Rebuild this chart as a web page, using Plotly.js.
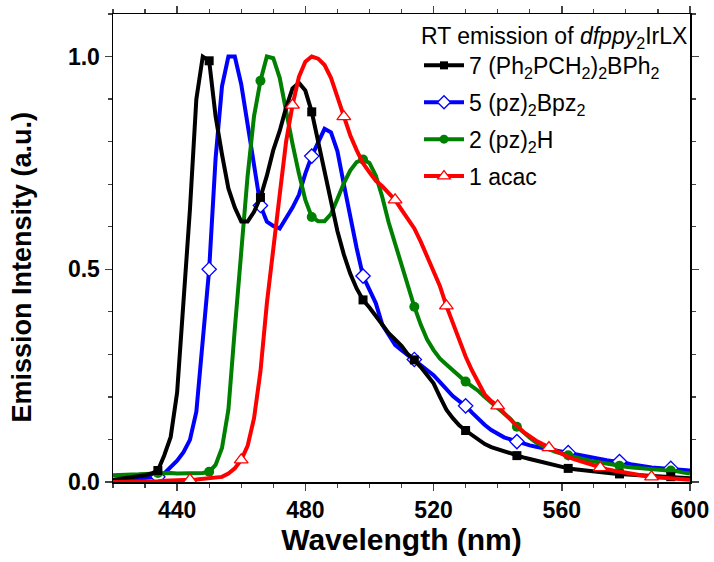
<!DOCTYPE html>
<html>
<head>
<meta charset="utf-8">
<script src="https://cdn.plot.ly/plotly-3.0.1.min.js"></script>
<style>html,body{margin:0;padding:0;background:#fff;}#chart{width:714px;height:562px;}</style>
</head>
<body>
<div id="chart"></div>
<script>
// Wavelength grid (nm), 2 nm step from 420 to 600
const wavelength = [];
for (let w = 420; w <= 600; w += 2) wavelength.push(w);

const seriesNames = [
  "7 (Ph<sub>2</sub>PCH<sub>2</sub>)<sub>2</sub>BPh<sub>2</sub>",
  "5 (pz)<sub>2</sub>Bpz<sub>2</sub>",
  "2 (pz)<sub>2</sub>H",
  "1 acac"
];

const black7 = [0.005,0.007,0.009,0.011,0.013,0.016,0.020,0.027,0.063,0.106,
  0.21,0.42,0.64,0.90,1.00,0.99,0.86,0.77,0.69,0.645,
  0.612,0.612,0.635,0.669,0.72,0.78,0.825,0.88,0.925,0.938,
  0.92,0.870,0.80,0.73,0.665,0.59,0.535,0.49,0.455,0.428,
  0.41,0.39,0.37,0.35,0.335,0.32,0.30,0.287,0.27,0.25,
  0.232,0.20,0.17,0.15,0.133,0.121,0.11,0.098,0.089,0.082,
  0.077,0.072,0.066,0.062,0.058,0.054,0.05,0.047,0.043,0.039,
  0.035,0.032,0.03,0.028,0.027,0.025,0.023,0.022,0.02,0.019,
  0.018,0.017,0.016,0.015,0.014,0.013,0.013,0.0125,0.011,0.01,0.009];

const blue5 = [0.003,0.004,0.005,0.006,0.007,0.008,0.01,0.012,0.02,0.035,
  0.05,0.07,0.099,0.165,0.34,0.50,0.76,0.93,1.0,1.0,
  0.935,0.835,0.735,0.65,0.612,0.602,0.596,0.62,0.645,0.675,
  0.725,0.766,0.80,0.83,0.822,0.778,0.70,0.623,0.55,0.484,
  0.45,0.42,0.37,0.345,0.322,0.31,0.298,0.288,0.277,0.263,
  0.251,0.235,0.218,0.202,0.19,0.179,0.163,0.148,0.134,0.122,
  0.113,0.105,0.1,0.095,0.09,0.086,0.083,0.08,0.078,0.075,
  0.072,0.069,0.065,0.061,0.058,0.055,0.053,0.051,0.049,0.048,
  0.045,0.041,0.038,0.035,0.034,0.033,0.032,0.032,0.03,0.028,0.027];

const green2 = [0.016,0.016,0.017,0.018,0.018,0.019,0.02,0.021,0.021,0.021,
  0.02,0.02,0.02,0.02,0.021,0.024,0.04,0.08,0.17,0.36,
  0.53,0.72,0.86,0.943,1.0,0.996,0.95,0.87,0.795,0.725,
  0.663,0.623,0.613,0.613,0.63,0.665,0.702,0.732,0.752,0.758,
  0.75,0.72,0.67,0.61,0.56,0.51,0.46,0.412,0.37,0.335,
  0.31,0.29,0.276,0.262,0.248,0.236,0.225,0.214,0.2,0.187,
  0.177,0.164,0.148,0.13,0.116,0.104,0.093,0.084,0.077,0.071,
  0.066,0.063,0.059,0.055,0.051,0.048,0.046,0.043,0.04,0.038,
  0.036,0.034,0.033,0.031,0.03,0.029,0.028,0.027,0.025,0.022,0.02];

const red1 = [0.0,0.0,0.0,0.0,0.0005,0.001,0.002,0.002,0.003,0.003,
  0.004,0.004,0.005,0.006,0.007,0.008,0.009,0.012,0.02,0.032,
  0.052,0.085,0.15,0.26,0.42,0.54,0.675,0.80,0.886,0.952,
  0.988,1.0,0.995,0.98,0.95,0.905,0.859,0.815,0.78,0.749,
  0.728,0.708,0.695,0.68,0.663,0.64,0.618,0.596,0.565,0.529,
  0.495,0.46,0.414,0.375,0.33,0.295,0.262,0.232,0.205,0.19,
  0.179,0.162,0.146,0.132,0.118,0.107,0.097,0.089,0.081,0.074,
  0.066,0.059,0.053,0.048,0.043,0.038,0.034,0.03,0.027,0.024,
  0.021,0.018,0.016,0.014,0.012,0.011,0.01,0.009,0.008,0.007,0.005];

// wavelengths at which symbols are drawn
const markerWavesA = [434,450,466,482,498,514,530,546,562,578,594];
const markerWavesRed = [444,460,476,492,508,524,540,556,572,588];

const yTickVals = [0, 0.5, 1.0];
const yTickText = ["0.0", "0.5", "1.0"];
const xTickVals = [440, 480, 520, 560, 600];

function pick(vals, waves) {
  return waves.map(w => vals[wavelength.indexOf(w)]);
}

const styles = [
  {data: black7, waves: markerWavesA, color: '#000000', marker: {symbol: 'square', size: 9}},
  {data: blue5, waves: markerWavesA, color: '#0000ff', marker: {symbol: 'diamond-open', size: 11}},
  {data: green2, waves: markerWavesA, color: '#008000', marker: {symbol: 'circle', size: 10}},
  {data: red1, waves: markerWavesRed, color: '#ff0000', marker: {symbol: 'triangle-up-open', size: 12}}
];

function markerStyle(s, size) {
  if (s.marker.symbol.indexOf('open') >= 0) {
    return {symbol: s.marker.symbol.replace('-open', ''), size: size, color: '#ffffff', line: {width: 1.3, color: s.color}};
  }
  return {symbol: s.marker.symbol, size: size, color: s.color};
}

const traces = [];
// drawing order: blue, green, black, red
[1, 2, 0, 3].forEach(i => {
  const s = styles[i];
  traces.push({x: wavelength, y: s.data, mode: 'lines', line: {color: s.color, width: 4}, showlegend: false, hoverinfo: 'skip'});
  traces.push({x: s.waves, y: pick(s.data, s.waves), mode: 'markers', marker: markerStyle(s, s.marker.size),
    showlegend: false, hoverinfo: 'skip'});
});
// legend entries in the reference order
styles.forEach((s, i) => {
  traces.push({x: [null], y: [null], mode: 'lines+markers', name: seriesNames[i], legendgroup: 'g' + i,
    line: {color: s.color, width: 4}, marker: markerStyle(s, s.marker.size - 1), showlegend: true});
});

const FAM = 'Liberation Sans, Arial, sans-serif';
const axisFont = {family: FAM, size: 23, color: '#000', weight: 'bold'};

const layout = {
  width: 714, height: 562,
  margin: {l: 113, r: 24, t: 14, b: 80},
  paper_bgcolor: '#fff', plot_bgcolor: '#fff',
  font: {family: FAM, color: '#000'},
  xaxis: {
    range: [420, 600], tickvals: xTickVals, ticks: 'outside', ticklen: 7, tickwidth: 1.5,
    minor: {dtick: 10, ticks: 'outside', ticklen: 4, tickwidth: 1.2, showgrid: false},
    showline: true, linewidth: 1.5, linecolor: '#000', mirror: 'allticks',
    showgrid: false, zeroline: false, tickfont: axisFont,
    title: {text: 'Wavelength (nm)', font: {family: FAM, size: 30, weight: 'bold', color: '#000'}, standoff: 4}
  },
  yaxis: {
    range: [0, 1.10], tickvals: yTickVals, ticktext: yTickText, ticks: 'outside', ticklen: 7, tickwidth: 1.5,
    minor: {dtick: 0.1, ticks: 'outside', ticklen: 4, tickwidth: 1.2, showgrid: false},
    showline: true, linewidth: 1.5, linecolor: '#000', mirror: 'allticks',
    showgrid: false, zeroline: false, tickfont: axisFont
  },
  annotations: [{
    text: 'Emission Intensity (a.u.)', textangle: -90, xref: 'paper', yref: 'paper',
    x: -0.158, y: 0.46, xanchor: 'center', yanchor: 'middle', showarrow: false,
    font: {family: FAM, size: 27, weight: 'bold', color: '#000'}
  }],
  legend: {
    x: 1.0, y: 1.0, xanchor: 'right', yanchor: 'top',
    bgcolor: 'rgba(0,0,0,0)', borderwidth: 0,
    font: {family: FAM, size: 23, color: '#000'},
    title: {text: 'RT emission of <i>dfppy</i><sub>2</sub>IrLX', font: {family: FAM, size: 23, color: '#000'}},
    traceorder: 'grouped', tracegroupgap: 4, itemwidth: 40
  }
};

Plotly.newPlot('chart', traces, layout, {staticPlot: true, displayModeBar: false});
</script>
</body>
</html>
